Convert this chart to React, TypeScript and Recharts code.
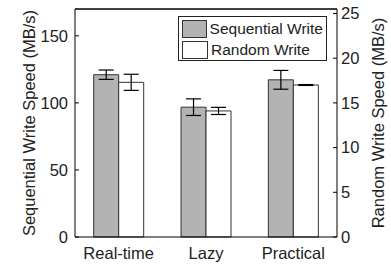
import {
  BarChart,
  Bar,
  XAxis,
  YAxis,
  ErrorBar,
  Legend,
  ReferenceLine,
  CartesianGrid,
} from "recharts";

const modes = ["Real-time", "Lazy", "Practical"];
const seqSpeed = [121, 96.8, 117.2];
const seqErr = [3.5, 6.2, 7];
const randSpeed = [17.3, 14.1, 17.0];
const randErr = [0.9, 0.4, 0.05];

const leftTicks = [0, 50, 100, 150];
const rightTicks = [0, 5, 10, 15, 20, 25];
const leftMax = 170;

const data = modes.map((name, i) => ({
  name,
  seq: seqSpeed[i],
  seqErr: seqErr[i],
  rand: randSpeed[i],
  randErr: randErr[i],
}));

const font = '"Liberation Sans", Arial, sans-serif';
const ink = "#222";
const tickStyle = { fontSize: 16.5, fill: ink, fontFamily: font };

function LegendBox() {
  const row = (fill: string, text: string) => (
    <div style={{ display: "flex", alignItems: "center", height: 21 }}>
      <div style={{ width: 24, height: 16, background: fill, border: "1px solid #333", marginRight: 3 }} />
      <span style={{ fontSize: 15.5, color: ink, fontFamily: font, whiteSpace: "nowrap" }}>{text}</span>
    </div>
  );
  return (
    <div style={{ border: "1px solid #222", background: "#fff", padding: "1px 3px 0 3px", width: 141, boxSizing: "content-box" }}>
      {row("#b3b3b3", "Sequential Write")}
      {row("#fff", "Random Write")}
    </div>
  );
}

function AxisTitle({ viewBox, text, dx }: any) {
  const cx = viewBox.x + dx;
  const cy = viewBox.y + viewBox.height / 2;
  return (
    <text
      x={cx}
      y={cy}
      transform={`rotate(-90 ${cx} ${cy})`}
      textAnchor="middle"
      dominantBaseline="central"
      style={{ fontSize: 16.5, fill: ink, fontFamily: font }}
    >
      {text}
    </text>
  );
}

export default function App() {
  return (
    <div style={{ position: "absolute", left: 0, top: 0, background: "#fff" }}>
      <BarChart
        width={391}
        height={269}
        data={data}
        margin={{ top: 9, right: 0, bottom: 0, left: 0 }}
        barCategoryGap="21.4%"
        barGap={0}
      >
        <CartesianGrid
          yAxisId="left"
          vertical={false}
          horizontalValues={[leftMax]}
          stroke="#000"
          strokeOpacity={1}
        />
        <XAxis
          dataKey="name"
          height={32}
          tickLine={false}
          tickSize={0}
          tickMargin={10}
          tick={tickStyle}
          axisLine={{ stroke: "#000" }}
        />
        <YAxis
          yAxisId="left"
          domain={[0, leftMax]}
          ticks={leftTicks}
          width={75}
          tickSize={-4}
          tickMargin={11}
          tick={tickStyle}
          axisLine={{ stroke: "#000" }}
          tickLine={{ stroke: "#000" }}
          label={(p: any) => <AxisTitle viewBox={p.viewBox} text="Sequential Write Speed (MB/s)" dx={29} />}
        />
        <YAxis
          yAxisId="right"
          orientation="right"
          domain={[0, 25.5]}
          ticks={rightTicks}
          width={54}
          tickSize={-4}
          tickMargin={8}
          tick={tickStyle}
          axisLine={{ stroke: "#000" }}
          tickLine={{ stroke: "#000" }}
          label={(p: any) => <AxisTitle viewBox={p.viewBox} text="Random Write Speed (MB/s)" dx={41} />}
        />
        <ReferenceLine yAxisId="left" y={leftMax} stroke="#000" strokeWidth={1} />
        <Legend
          layout="vertical"
          verticalAlign="middle"
          align="center"
          content={() => <LegendBox />}
          wrapperStyle={{ left: 178, top: 16, width: "auto" }}
        />
        <Bar yAxisId="left" dataKey="seq" fill="#b3b3b3" stroke="#333" strokeWidth={1} isAnimationActive={false}>
          <ErrorBar dataKey="seqErr" width={7.5} stroke="#000" strokeWidth={1.2} direction="y" />
        </Bar>
        <Bar yAxisId="right" dataKey="rand" fill="#fff" stroke="#333" strokeWidth={1} isAnimationActive={false}>
          <ErrorBar dataKey="randErr" width={7.5} stroke="#000" strokeWidth={1.2} direction="y" />
        </Bar>
      </BarChart>
    </div>
  );
}
